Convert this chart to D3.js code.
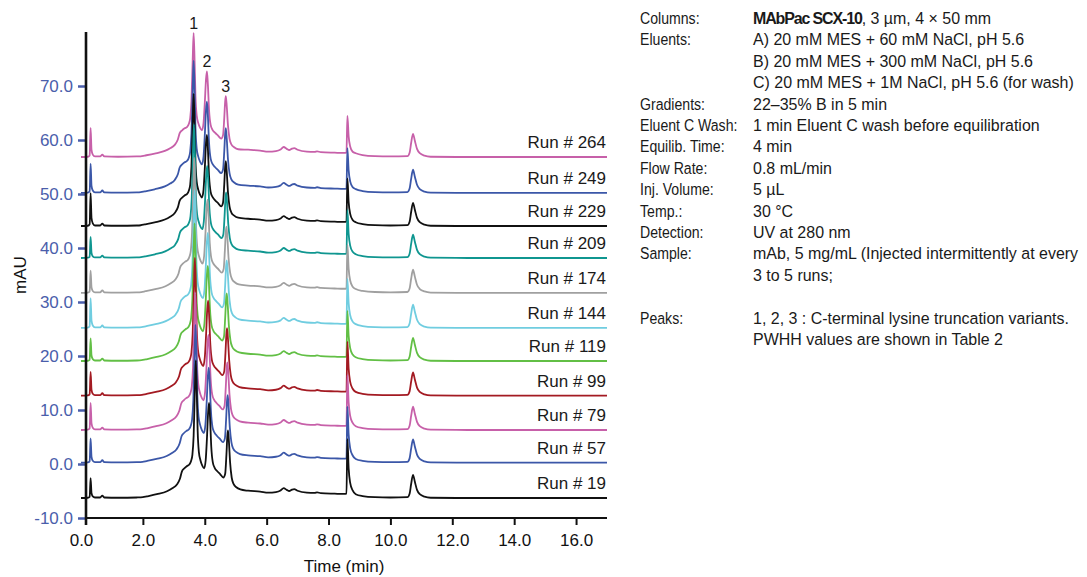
<!DOCTYPE html>
<html>
<head>
<meta charset="utf-8">
<script src="https://cdn.jsdelivr.net/npm/d3@7"></script>
<style>
  body { margin: 0; background: #fff; }
  svg { display: block; font-family: "Liberation Sans", Arial, sans-serif; }
</style>
</head>
<body>
<svg id="chart"></svg>
<script>
// runs, bottom trace first
const runLabels = ["Run # 19", "Run # 57", "Run # 79", "Run # 99", "Run # 119", "Run # 144",
                   "Run # 174", "Run # 209", "Run # 229", "Run # 249", "Run # 264"];
const runColors = ["#111111", "#3b57a8", "#c760a9", "#a31a22", "#62bf45", "#70cde0",
                   "#a0a0a0", "#0f9690", "#111111", "#3b57a8", "#c760a9"];
// baseline offset of each trace (mAU)
const runOffsets = [-6.3, 0.24, 6.3, 12.65, 19.07, 25.2, 31.7, 38.15, 44.07, 50.2, 56.85];
// height of the injection spike and of the wash spike for each run (mAU)
const injHeights = [3.7, 4.5, 5.0, 4.4, 4.2, 5.5, 4.1, 3.9, 6.1, 5.4, 5.4];
const washHeights = [10.9, 10.4, 10.2, 10.0, 9.3, 9.1, 8.9, 8.9, 8.8, 8.3, 7.6];
// relative size and retention drift of the main peaks
const mainScales = [1, 1, 1, 1, 1, 1, 0.98, 0.97, 0.96, 0.96, 0.9];
const rtShifts = [0, -0.01, -0.02, -0.03, -0.04, -0.04, -0.05, -0.06, -0.07, -0.07, -0.07];

// chromatogram of run 19 (min, mAU above baseline)
// group: b = baseline, i = injection spike, m = main peaks, w = wash spike
const profileTimes = [0, 0.22, 0.28, 0.31, 0.34, 0.38, 0.45, 0.62, 0.69, 0.75, 1.2, 1.8,
  2.0, 2.13, 2.45, 2.78, 2.95, 3.10, 3.20, 3.26, 3.34, 3.42, 3.50, 3.56, 3.60, 3.64, 3.68, 3.71,
  3.74, 3.77, 3.81, 3.86, 3.92, 3.98, 4.03, 4.07, 4.11, 4.14, 4.17, 4.21, 4.26, 4.32, 4.40, 4.50,
  4.60, 4.66, 4.70, 4.73, 4.75, 4.78, 4.82, 4.87, 4.93, 5.02, 5.15,
  5.4, 5.79, 6.05, 6.30, 6.45, 6.55, 6.65, 6.73, 6.82, 6.89, 7.0, 7.3, 7.55, 7.63, 7.75, 8.2, 8.5,
  8.58, 8.61, 8.65, 8.70, 8.78, 8.88, 9.1, 9.5, 10.0,
  10.55, 10.62, 10.67, 10.73, 10.79, 10.86, 10.95, 11.1, 11.3, 12.5, 17.0];
const profileValues = [0, 0.05, 0.2, 3.7, 0.9, 0.3, 0.1, 0.1, 0.45, 0.1, 0.05, 0.1,
  0.15, 0.3, 0.7, 1.25, 1.8, 2.5, 3.6, 4.9, 5.5, 5.9, 6.2, 6.9, 8.0, 11.5, 20, 25.5,
  20, 12.5, 8.5, 7.0, 6.0, 5.5, 7.0, 11, 16, 17.6, 15, 9.5, 6.6, 5.6, 5.0, 4.4,
  3.8, 4.5, 8.0, 11.5, 12.5, 10.5, 6.5, 3.8, 2.6, 2.0, 1.6,
  1.35, 1.2, 1.0, 1.1, 1.4, 1.85, 1.5, 1.3, 1.55, 1.65, 1.35, 1.0, 0.95, 1.05, 0.9, 0.8, 0.75,
  0.8, 10.9, 5.5, 2.8, 1.4, 0.7, 0.35, 0.15, 0.1,
  0.15, 0.8, 2.6, 4.3, 3.0, 1.5, 0.7, 0.25, 0.05, 0, 0];
const profileGroups = "bbiiiibbbbbb" + "m".repeat(43) + "b".repeat(17) + "bwwwwbbbb" + "b".repeat(11);

const xTicks = [0, 2, 4, 6, 8, 10, 12, 14, 16];
const yTicks = [-10, 0, 10, 20, 30, 40, 50, 60, 70];
const peakNames = ["1", "2", "3"];
const peakTimes = [3.71, 4.14, 4.75];

const conditionLabels = ["Columns:", "Eluents:", "", "", "Gradients:", "Eluent C Wash:", "Equilib. Time:",
  "Flow Rate:", "Inj. Volume:", "Temp.:", "Detection:", "Sample:", "", "", "Peaks:", ""];
const conditionValues = ["", "A) 20 mM MES + 60 mM NaCl, pH 5.6", "B) 20 mM MES + 300 mM NaCl, pH 5.6",
  "C) 20 mM MES + 1M NaCl, pH 5.6 (for wash)", "22–35% B in 5 min", "1 min Eluent C wash before equilibration",
  "4 min", "0.8 mL/min", "5 µL", "30 °C", "UV at 280 nm", "mAb, 5 mg/mL (Injected intermittently at every",
  "3 to 5 runs;", "", "1, 2, 3 : C-terminal lysine truncation variants.", "PWHH values are shown in Table 2"];

const width = 1087, height = 577;
const svg = d3.select("#chart").attr("width", width).attr("height", height);

const axisLeftX = 86, axisBottomY = 518;
const x = d3.scaleLinear().domain([0, 17]).range([81, 607]);
const y = d3.scaleLinear().domain([-10, 80]).range([518, 32]);

// build every trace from the profile
const traces = runLabels.map((label, i) => {
  const pts = profileTimes.map((t, k) => {
    const g = profileGroups[k];
    let v = profileValues[k];
    let tt = t;
    if (g === "i") v = v * injHeights[i] / injHeights[0];
    if (g === "w") v = v * washHeights[i] / washHeights[0];
    if (g === "m") { v = v * mainScales[i]; tt = t + rtShifts[i]; }
    return [tt, runOffsets[i] + v];
  });
  return { label, color: runColors[i], pts };
});

const line = d3.line()
  .x(d => x(d[0]))
  .y(d => y(d[1]))
  .curve(d3.curveMonotoneX);

// top runs first so lower traces sit on top
const traceG = svg.append("g");
traceG.selectAll("path")
  .data(traces.slice().reverse())
  .enter().append("path")
  .attr("d", d => line(d.pts))
  .attr("fill", "none")
  .attr("stroke", d => d.color)
  .attr("stroke-width", 1.8)
  .attr("stroke-linejoin", "round");

svg.append("g").selectAll("text")
  .data(traces)
  .enter().append("text")
  .attr("x", 606)
  .attr("y", d => y(d.pts[d.pts.length - 1][1]) - 9)
  .attr("text-anchor", "end")
  .style("font-size", "17px")
  .style("fill", "#1a1a1a")
  .text(d => d.label);

// peak numbers above the top run
const topRun = runLabels.length - 1;
svg.append("g").selectAll("text")
  .data(peakNames)
  .enter().append("text")
  .attr("x", (d, i) => x(peakTimes[i] + rtShifts[topRun]))
  .attr("y", (d, i) => {
    const k = profileTimes.indexOf(peakTimes[i]);
    return y(runOffsets[topRun] + profileValues[k] * mainScales[topRun]) - 4;
  })
  .attr("text-anchor", "middle")
  .style("font-size", "16px")
  .style("fill", "#1a1a1a")
  .text(d => d);

// y axis
const yAxis = svg.append("g")
  .attr("transform", `translate(${axisLeftX},0)`)
  .call(d3.axisLeft(y).tickValues(yTicks).tickFormat(d => d.toFixed(1)).tickSize(8).tickPadding(5));
yAxis.select(".domain").remove();
yAxis.selectAll(".tick line").attr("stroke", "#4a5eab").attr("stroke-width", 2.5);
yAxis.selectAll(".tick text").attr("fill", "#4a5eab").style("font-size", "17px").style("font-family", "Liberation Sans, Arial, sans-serif");

// x axis
const xAxis = svg.append("g")
  .attr("transform", `translate(0,${axisBottomY})`)
  .call(d3.axisBottom(x).tickValues(xTicks).tickFormat(d => d.toFixed(1)).tickSize(7).tickPadding(9));
xAxis.select(".domain").remove();
xAxis.selectAll(".tick line").attr("stroke", "#111").attr("stroke-width", 2)
  .attr("opacity", d => d === 0 ? 0 : 1);
xAxis.selectAll(".tick text").attr("fill", "#111").style("font-size", "17px").style("font-family", "Liberation Sans, Arial, sans-serif");

svg.append("line")
  .attr("x1", axisLeftX).attr("x2", 607)
  .attr("y1", axisBottomY).attr("y2", axisBottomY)
  .attr("stroke", "#111").attr("stroke-width", 2);
svg.append("line")
  .attr("x1", axisLeftX).attr("x2", axisLeftX)
  .attr("y1", 32).attr("y2", 525)
  .attr("stroke", "#111").attr("stroke-width", 2.6);

svg.append("text")
  .attr("x", 344).attr("y", 572)
  .attr("text-anchor", "middle")
  .style("font-size", "17px").style("fill", "#111")
  .text("Time (min)");
svg.append("text")
  .attr("transform", "translate(26,275) rotate(-90)")
  .attr("text-anchor", "middle")
  .style("font-size", "17px").style("fill", "#111")
  .text("mAU");

// chromatography conditions (condensed look via horizontal scale)
const info = svg.append("g")
  .style("font-size", "17px")
  .style("fill", "#1a1a1a");
info.append("g")
  .attr("transform", "translate(640,0) scale(0.83,1)")
  .selectAll("text")
  .data(conditionLabels)
  .enter().append("text")
  .attr("x", 0)
  .attr("y", (d, i) => 24 + i * 21.4)
  .text(d => d);
const vals = info.append("g")
  .attr("transform", "translate(753,0) scale(0.94,1)");
vals.selectAll("text")
  .data(conditionValues)
  .enter().append("text")
  .attr("x", 0)
  .attr("y", (d, i) => 24 + i * 21.4)
  .text(d => d);
const first = vals.select("text");
first.append("tspan").style("font-weight", "bold").style("letter-spacing", "-1.2px").text("MAbPac SCX-10");
first.append("tspan").text(", 3 µm, 4 × 50 mm");
</script>
</body>
</html>
